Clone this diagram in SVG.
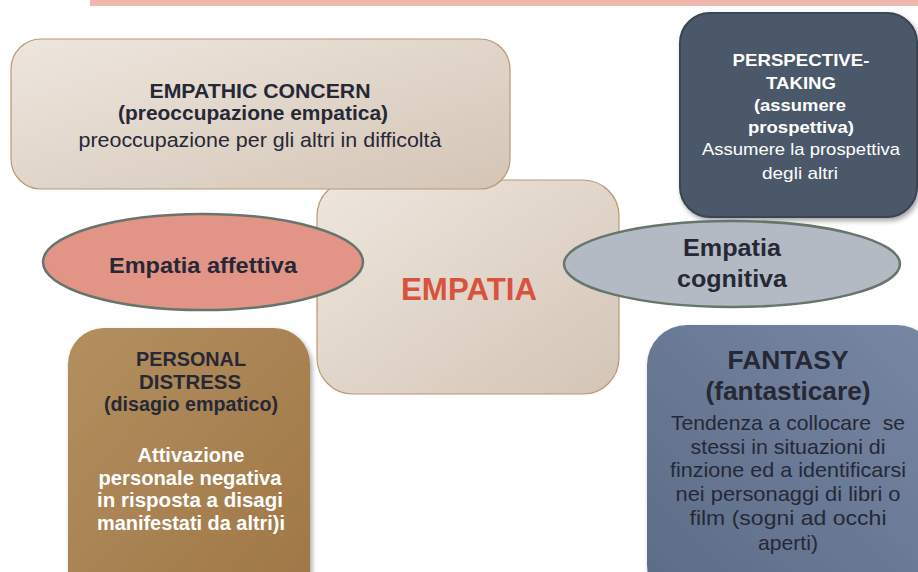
<svg xmlns="http://www.w3.org/2000/svg" width="918" height="572" viewBox="0 0 918 572">
<defs>
<linearGradient id="beige" x1="0" y1="0" x2="1" y2="1">
<stop offset="0" stop-color="#eee6de"/><stop offset="1" stop-color="#d4c5b6"/>
</linearGradient>
<linearGradient id="brown" x1="0" y1="0" x2="1" y2="1">
<stop offset="0" stop-color="#b38f5f"/><stop offset="1" stop-color="#9f7646"/>
</linearGradient>
<linearGradient id="slate" x1="1" y1="0" x2="0" y2="1">
<stop offset="0" stop-color="#7888a4"/><stop offset="1" stop-color="#5b6b86"/>
</linearGradient>
<filter id="sh" x="-20%" y="-20%" width="140%" height="140%">
<feDropShadow dx="2" dy="3" stdDeviation="2.5" flood-color="#000" flood-opacity="0.35"/>
</filter>
</defs>
<style>
text{font-family:"Liberation Sans",Arial,sans-serif;text-anchor:middle}
.b{font-weight:bold}
.dk{fill:#262836}
.wh{fill:#ffffff}
.ell{stroke:#66766c;stroke-width:2.5}
.box{fill:url(#beige);stroke:#b89a74;stroke-width:1.2}
</style>
<rect x="90" y="0" width="828" height="6" fill="#efb9b0"/>

<g id="empatia">
<rect x="317" y="180" width="302" height="214" rx="36" class="box"/>
<text x="469" y="299.5" class="b" font-size="31.5" fill="#d9523d" textLength="136" lengthAdjust="spacingAndGlyphs">EMPATIA</text>
</g>
<g id="empathic-concern">
<rect x="11" y="39" width="499" height="150" rx="30" class="box"/>
<text x="260" y="97.7" class="b dk" font-size="20" textLength="221" lengthAdjust="spacingAndGlyphs">EMPATHIC CONCERN</text>
<text x="253" y="119.5" class="b dk" font-size="20" textLength="270" lengthAdjust="spacingAndGlyphs">(preoccupazione empatica)</text>
<text x="260" y="146.7" class="dk" font-size="20.5" textLength="363" lengthAdjust="spacingAndGlyphs">preoccupazione per gli altri in difficoltà</text>
</g>
<g id="perspective-taking">
<rect x="680" y="13" width="237" height="204" rx="30" fill="#4b5869" stroke="#3a4452" stroke-width="2" filter="url(#sh)"/>
<text x="801" y="66" class="b wh" font-size="17" textLength="137" lengthAdjust="spacingAndGlyphs">PERSPECTIVE-</text>
<text x="801" y="89" class="b wh" font-size="17" textLength="70" lengthAdjust="spacingAndGlyphs">TAKING</text>
<text x="800" y="111" class="b wh" font-size="17" textLength="92" lengthAdjust="spacingAndGlyphs">(assumere</text>
<text x="801" y="133" class="b wh" font-size="17" textLength="106" lengthAdjust="spacingAndGlyphs">prospettiva)</text>
<text x="801" y="155" class="wh" font-size="17" textLength="198" lengthAdjust="spacingAndGlyphs">Assumere la prospettiva</text>
<text x="800" y="179" class="wh" font-size="17" textLength="76" lengthAdjust="spacingAndGlyphs">degli altri</text>
</g>
<g id="empatia-affettiva">
<ellipse cx="203" cy="262" rx="160" ry="48" fill="#e29587" class="ell"/>
<text x="203" y="273" class="b dk" font-size="21.5" textLength="188" lengthAdjust="spacingAndGlyphs">Empatia affettiva</text>
</g>
<g id="empatia-cognitiva">
<ellipse cx="732" cy="264" rx="168" ry="43" fill="#b3bac4" class="ell"/>
<text x="732" y="256" class="b dk" font-size="23" textLength="98" lengthAdjust="spacingAndGlyphs">Empatia</text>
<text x="732" y="287" class="b dk" font-size="23" textLength="110" lengthAdjust="spacingAndGlyphs">cognitiva</text>
</g>
<g id="personal-distress">
<rect x="68" y="328" width="242" height="280" rx="36" fill="url(#brown)" filter="url(#sh)"/>
<text x="191" y="366" class="b dk" font-size="19.5" textLength="110" lengthAdjust="spacingAndGlyphs">PERSONAL</text>
<text x="190" y="388.5" class="b dk" font-size="19.5" textLength="102" lengthAdjust="spacingAndGlyphs">DISTRESS</text>
<text x="191" y="411" class="b dk" font-size="19.5" textLength="174" lengthAdjust="spacingAndGlyphs">(disagio empatico)</text>
<text x="191" y="462" class="b wh" font-size="19.5" textLength="107" lengthAdjust="spacingAndGlyphs">Attivazione</text>
<text x="190" y="484.5" class="b wh" font-size="19.5" textLength="183" lengthAdjust="spacingAndGlyphs">personale negativa</text>
<text x="190" y="507" class="b wh" font-size="19.5" textLength="186" lengthAdjust="spacingAndGlyphs">in risposta a disagi</text>
<text x="191" y="529.5" class="b wh" font-size="19.5" textLength="188" lengthAdjust="spacingAndGlyphs">manifestati da altri)i</text>
</g>
<g id="fantasy">
<rect x="647" y="325" width="290" height="280" rx="40" fill="url(#slate)" filter="url(#sh)"/>
<text x="788" y="369" class="b dk" font-size="26" textLength="121" lengthAdjust="spacingAndGlyphs">FANTASY</text>
<text x="788" y="400" class="b dk" font-size="26" textLength="165" lengthAdjust="spacingAndGlyphs">(fantasticare)</text>
<text x="788" y="430" class="dk" font-size="21" textLength="234" lengthAdjust="spacingAndGlyphs" xml:space="preserve">Tendenza a collocare  se</text>
<text x="788" y="453.5" class="dk" font-size="21" textLength="195" lengthAdjust="spacingAndGlyphs">stessi in situazioni di</text>
<text x="788" y="477" class="dk" font-size="21" textLength="236" lengthAdjust="spacingAndGlyphs">finzione ed a identificarsi</text>
<text x="788" y="501" class="dk" font-size="21" textLength="225" lengthAdjust="spacingAndGlyphs">nei personaggi di libri o</text>
<text x="788" y="525" class="dk" font-size="21" textLength="197" lengthAdjust="spacingAndGlyphs">film (sogni ad occhi</text>
<text x="788" y="550" class="dk" font-size="21" textLength="60" lengthAdjust="spacingAndGlyphs">aperti)</text>
</g>
<g id="connectors"></g>
</svg>
